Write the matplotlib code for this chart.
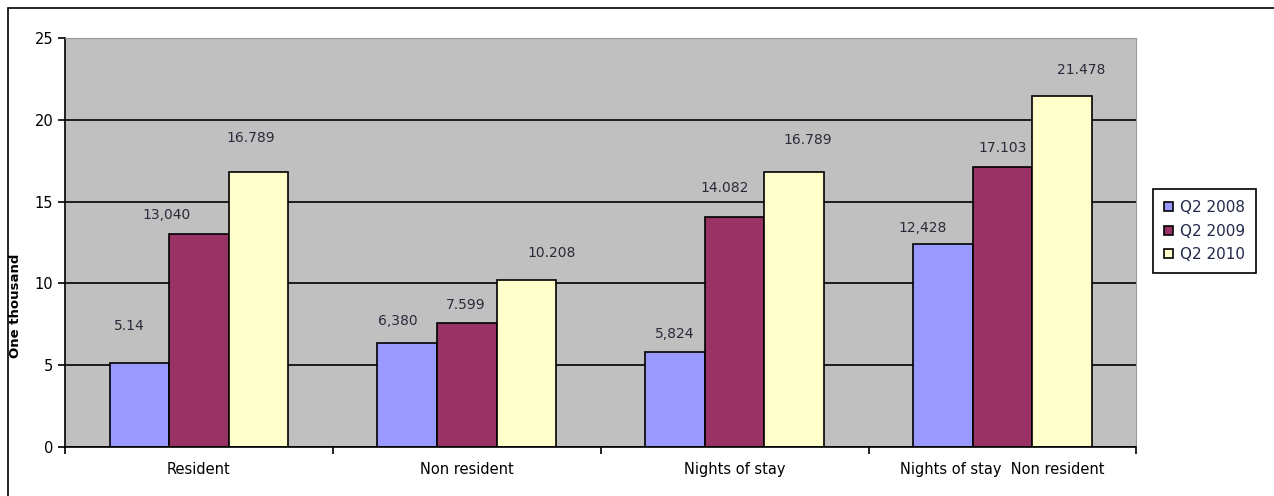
import numpy as np
from matplotlib import pyplot as plt
from matplotlib.patches import Rectangle

categories = ["Resident", "Non resident", "Nights of stay", "Nights of stay  Non resident"]
series_names = ["Q2 2008", "Q2 2009", "Q2 2010"]
q2_2008 = [5.14, 6.380, 5.824, 12.428]
q2_2009 = [13.040, 7.599, 14.082, 17.103]
q2_2010 = [16.789, 10.208, 16.789, 21.478]
value_labels = [
    ["5.14", "6,380", "5,824", "12,428"],
    ["13,040", "7.599", "14.082", "17.103"],
    ["16.789", "10.208", "16.789", "21.478"],
]
colors = ["#9999FF", "#993366", "#FFFFCC"]

# where each value label sits relative to the top of its bar (pixels)
label_shift = [
    [(-10, 37), (-9, 22), (0, 18), (-20, 16)],
    [(-32, 19), (-1, 18), (-10, 29), (0, 19)],
    [(-8, 34), (25, 27), (14, 32), (19, 26)],
]

plt.rcParams['font.family'] = ['DejaVu Sans']


def main():
    fig = plt.figure(figsize=(12.74, 4.96), dpi=100)
    ax = fig.add_axes([0.051, 0.099, 0.841, 0.824])

    # outer chart frame
    fig.patches.append(Rectangle((8 / 1274, -0.1), 1.2, 0.1 + 488 / 496,
                                 transform=fig.transFigure, fill=False,
                                 edgecolor="black", linewidth=1.2))

    ax.set_facecolor("#C0C0C0")
    x = np.arange(len(categories))
    width = 1 / 4.5
    all_values = [q2_2008, q2_2009, q2_2010]
    for i, (vals, name, col) in enumerate(zip(all_values, series_names, colors)):
        pos = x + (i - 1) * width
        ax.bar(pos, vals, width, color=col, edgecolor="black", linewidth=1.2,
               label=name, zorder=3)
        for p, v, lab, (dx, dy) in zip(pos, vals, value_labels[i], label_shift[i]):
            ax.annotate(lab, (p, v), xytext=(dx * 0.72, dy * 0.72),
                        textcoords="offset points", ha="center", va="center",
                        fontsize=10, color="#2a2a3a")

    ax.set_xlim(-0.5, len(categories) - 0.5)
    ax.set_ylim(0, 25)
    ax.set_yticks([0, 5, 10, 15, 20, 25])
    ax.set_xticks(x, categories)
    ax.set_xticks(np.arange(len(categories) + 1) - 0.5, minor=True)
    ax.tick_params(axis="x", which="major", length=0, pad=11, labelsize=10.5)
    ax.tick_params(axis="x", which="minor", length=5, direction="out", width=1.2)
    ax.tick_params(axis="y", length=5, direction="out", width=1.2, labelsize=10.5)
    ax.yaxis.grid(True, color="black", linewidth=1.2, zorder=1)
    ax.set_axisbelow(True)

    for side in ["top", "right"]:
        ax.spines[side].set_color("#999999")
    ax.spines["left"].set_linewidth(1.2)
    ax.spines["bottom"].set_linewidth(1.2)
    ax.spines["bottom"].set_zorder(4)

    ax.set_ylabel("One thousand", fontsize=9.5, fontweight="bold")
    ax.yaxis.set_label_coords(-0.040, 0.345)

    leg = ax.legend(loc="center left", bbox_to_anchor=(1.0155, 0.528),
                    fontsize=11, handlelength=0.55, handleheight=0.55,
                    handletextpad=0.45, labelspacing=0.55, borderpad=0.75,
                    borderaxespad=0, fancybox=False, edgecolor="black",
                    framealpha=1)
    leg.get_frame().set_linewidth(1.2)
    for t in leg.get_texts():
        t.set_color("#22284a")

    fig.savefig("out.png", dpi=100)
    return 0


if __name__ == '__main__':
    main()
